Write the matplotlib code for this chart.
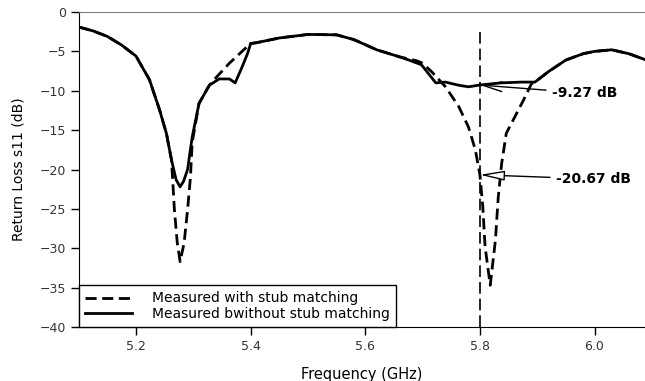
import matplotlib
matplotlib.use("Agg")
import matplotlib.pyplot as plt

# measured with stub matching (dashed)
freq_stub = [5.10, 5.125, 5.15, 5.175, 5.20, 5.2235, 5.241, 5.253, 5.262, 5.267, 5.272, 5.277,
             5.284, 5.29, 5.295, 5.298, 5.31, 5.328, 5.34, 5.363, 5.385, 5.40, 5.41, 5.45, 5.50,
             5.55, 5.58, 5.62, 5.66, 5.69, 5.70, 5.716, 5.74, 5.763, 5.78, 5.792, 5.80, 5.805,
             5.809, 5.818, 5.827, 5.832, 5.838, 5.846, 5.861, 5.876, 5.89, 5.896, 5.919, 5.95,
             5.98, 6.00, 6.03, 6.06, 6.09]
s11_stub = [-1.9, -2.4, -3.1, -4.2, -5.6, -8.6, -12.4, -15.4, -18.8, -25.1, -29.3, -31.7,
            -29.3, -25.1, -21.0, -16.6, -11.6, -9.3, -8.3, -6.5, -5.0, -4.0, -3.9, -3.3, -2.85,
            -2.9, -3.5, -4.8, -5.7, -6.2, -6.5, -7.6, -9.5, -12.0, -14.6, -17.5, -20.67, -24.7,
            -29.8, -34.7, -29.0, -23.5, -19.2, -15.4, -13.3, -11.2, -9.1, -8.9, -7.6, -6.1,
            -5.3, -5.0, -4.8, -5.3, -6.1]

# measured without stub matching (solid)
freq_nostub = [5.10, 5.125, 5.15, 5.175, 5.20, 5.2235, 5.241, 5.253, 5.262, 5.27, 5.277, 5.283,
               5.29, 5.298, 5.31, 5.328, 5.345, 5.363, 5.373, 5.385, 5.395, 5.40, 5.41, 5.45,
               5.50, 5.55, 5.58, 5.62, 5.66, 5.676, 5.698, 5.71, 5.723, 5.74, 5.763, 5.78, 5.80,
               5.837, 5.872, 5.896, 5.919, 5.95, 5.98, 6.00, 6.03, 6.06, 6.09]
s11_nostub = [-1.9, -2.4, -3.1, -4.2, -5.6, -8.6, -12.4, -15.4, -18.8, -21.3, -22.2, -21.5,
              -20.0, -15.9, -11.6, -9.3, -8.5, -8.5, -9.0, -7.0, -5.2, -4.0, -3.9, -3.3,
              -2.85, -2.9, -3.5, -4.8, -5.7, -6.1, -6.7, -7.8, -9.0, -8.9, -9.3, -9.5, -9.27,
              -9.0, -8.9, -8.9, -7.6, -6.1, -5.3, -5.0, -4.8, -5.3, -6.1]

marker_freq = 5.8
val_nostub = -9.27
val_stub = -20.67
x_ticks = [5.2, 5.4, 5.6, 5.8, 6.0]
y_ticks = [0, -5, -10, -15, -20, -25, -30, -35, -40]

fig = plt.figure(figsize=(6.45, 3.81), dpi=100)
ax = fig.add_axes([0.1225, 0.1417, 0.8775, 0.8268])

ax.plot(freq_stub, s11_stub, color="black", lw=2.0, linestyle=(0, (4, 2)),
        label="Measured with stub matching")
ax.plot(freq_nostub, s11_nostub, color="black", lw=2.0,
        label="Measured bwithout stub matching")
ax.vlines(marker_freq, -40, -2.5, colors="black", lw=1.2, linestyles=(0, (7, 3)))

ax.annotate(f"{val_nostub:.2f} dB", xy=(marker_freq, val_nostub), xytext=(5.925, -10.3),
            fontsize=10, fontweight="bold", va="center", ha="left",
            arrowprops=dict(arrowstyle="->,head_length=1.4,head_width=0.35", color="black",
                            lw=1.0, shrinkA=2, shrinkB=0))
ax.annotate(f"{val_stub:.2f} dB", xy=(marker_freq, val_stub), xytext=(5.932, -21.2),
            fontsize=10, fontweight="bold", va="center", ha="left",
            arrowprops=dict(arrowstyle="-|>,head_length=1.5,head_width=0.3", edgecolor="black",
                            facecolor="white", lw=1.0, shrinkA=2, shrinkB=0))

ax.set_xlim(5.1006, 6.088)
ax.set_ylim(-40, 0)
ax.set_xticks(x_ticks)
ax.set_xticklabels([f"{t:.1f}" for t in x_ticks])
ax.set_yticks(y_ticks)
ax.tick_params(direction="out", length=6, width=1, labelsize=9, labelcolor="#333333")
ax.set_xlabel("Frequency (GHz)", fontsize=10.5, labelpad=10)
ax.set_ylabel("Return Loss s11 (dB)", fontsize=10, labelpad=10)

ax.spines["right"].set_visible(False)
ax.spines["top"].set_color("#808080")
ax.spines["top"].set_linewidth(0.8)

leg = ax.legend(loc="lower left", bbox_to_anchor=(0, 0), borderaxespad=0, fancybox=False,
                edgecolor="black", fontsize=10, handlelength=3.4, handletextpad=1.4,
                labelspacing=0.1, borderpad=0.45, framealpha=1)
leg.get_frame().set_linewidth(1.0)

fig.savefig("out.png", dpi=100)
